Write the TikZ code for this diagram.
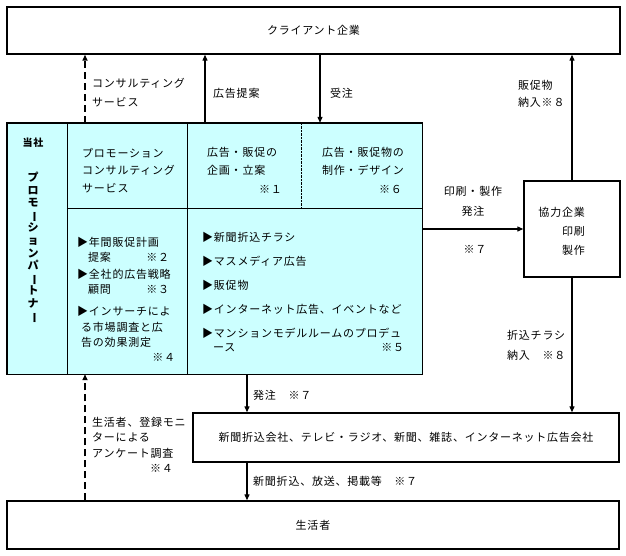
\documentclass[tikz,border=0pt]{standalone}
\usepackage{fontspec}
\setmainfont{Noto Sans CJK JP}[LetterSpace=7]
\usetikzlibrary{arrows.meta}
\definecolor{cellcyan}{HTML}{CCFFFF}
\tikzset{
  box/.style={draw, line width=1.4pt, inner sep=0pt},
  cell/.style={fill=cellcyan, inner sep=0pt},
  txt/.style={inner sep=0pt, align=left},
  flow/.style={line width=1.2pt, -{Triangle[length=6pt,width=5pt]}},
  survey/.style={flow, line width=1.6pt, dash pattern=on 7pt off 4pt},
}
\newcommand{\lsp}[1]{\fontsize{11}{#1}\selectfont}
\newcommand{\vbar}{\rotatebox[origin=c]{-90}{ー}}

\begin{document}
\begin{tikzpicture}[x=1pt, y=-1pt, font=\lsp{15}]
\useasboundingbox (0,0) rectangle (626,555);

% outer parties
\node[box, minimum width=613pt, minimum height=47pt] (client) at (313.5,30.5) {クライアント企業};
\node[box, minimum width=612pt, minimum height=48pt] (consumer) at (313,525) {生活者};
\node[box, minimum width=426pt, minimum height=49pt] (media) at (406,437.5)
  {新聞折込会社、テレビ・ラジオ、新聞、雑誌、インターネット広告会社};
\node[box, minimum width=96pt, minimum height=96pt] (partner) at (572,229) {};
\node[txt, align=right, anchor=east, font=\lsp{19}] at (585,231) {協力企業\\印刷\\製作};

% our company
\node[cell, minimum width=60pt, minimum height=251pt] (tosha) at (37,248.5) {};
\node[cell, minimum width=120pt, minimum height=86pt] (cellA) at (127,166) {};
\node[cell, minimum width=114pt, minimum height=86pt] (cellB) at (244,166) {};
\node[cell, minimum width=121pt, minimum height=86pt] (cellC) at (361.5,166) {};
\node[cell, minimum width=120pt, minimum height=165pt] (cellD) at (127,291.5) {};
\node[cell, minimum width=235pt, minimum height=165pt] (cellE) at (304.5,291.5) {};
\draw[line width=1.4pt] (tosha.north west) rectangle (cellE.south east);
\draw[line width=1.4pt] (tosha.north east) -- (tosha.south east);
\draw[line width=1.2pt] (cellA.north east) -- (cellD.south east);
\draw[line width=1.2pt] (cellD.north west) -- (cellE.north east);
\draw[densely dotted] (cellB.north east) -- (cellB.south east);

\node[txt, font=\bfseries] at (33,143) {当社};
\node[txt, align=center, font=\bfseries\lsp{12.6}] at (33,247.5)
  {プ\\ロ\\モ\\\vbar\\シ\\ョ\\ン\\パ\\\vbar\\ト\\ナ\\\vbar};
\node[txt, anchor=west, font=\lsp{17.5}] at (82,170.5) {プロモーション\\コンサルティング\\サービス};
\node[txt, anchor=west, font=\lsp{18}] at (207,161) {広告・販促の\\企画・立案};
\node[txt, anchor=east] at (282,189) {※１};
\node[txt, anchor=west, font=\lsp{18}] at (322,161) {広告・販促物の\\制作・デザイン};
\node[txt, anchor=east] at (402,189) {※６};
\node[txt, anchor=west, text width=92pt] at (77,250) {▶年間販促計画\\\phantom{▶}提案\hfill※２};
\node[txt, anchor=west, text width=92pt] at (77,281.5) {▶全社的広告戦略\\\phantom{▶}顧問\hfill※３};
\node[txt, anchor=west, text width=98pt, font=\lsp{15.3}] at (77,334)
  {▶インサーチによ\\\hspace{4pt}る市場調査と広\\\hspace{4pt}告の効果測定\\\mbox{}\hfill※４};
\node[txt, anchor=west, text width=202pt, font=\lsp{14}] at (202,292)
  {▶新聞折込チラシ\\[10pt]▶マスメディア広告\\[10pt]▶販促物\\[10pt]%
   ▶インターネット広告、イベントなど\\[10pt]▶マンションモデルルームのプロデュ\\%
   \phantom{▶}ース\hfill※５};

% flows
\coordinate (dashx) at (85,0);
\coordinate (planx) at (205,0);
\coordinate (orderx) at (320,0);
\coordinate (mediax) at (247,0);
\draw[survey] (cellA.north -| dashx) -- (client.south -| dashx);
\draw[flow] (cellB.north -| planx) -- (client.south -| planx);
\draw[flow] (client.south -| orderx) -- (cellC.north -| orderx);
\draw[flow] (partner.north) -- (client.south -| partner.north);
\draw[flow] (cellE.east |- partner.west) -- (partner.west);
\draw[flow] (partner.south) -- (media.north -| partner.south);
\draw[flow] (cellE.south -| mediax) -- (media.north -| mediax);
\draw[flow] (media.south -| mediax) -- (consumer.north -| mediax);
\draw[survey] (consumer.north -| dashx) -- (cellD.south -| dashx);

% flow labels
\node[txt, anchor=west, font=\lsp{19}] at (92,92.5) {コンサルティング\\サービス};
\node[txt, anchor=west] at (213,93) {広告提案};
\node[txt, anchor=west] at (330,93) {受注};
\node[txt, anchor=west, font=\lsp{17}] at (518,93.5) {販促物\\納入※８};
\node[txt, align=center, font=\lsp{20}] at (473,201) {印刷・製作\\発注};
\node[txt] at (475,249) {※７};
\node[txt, anchor=west, font=\lsp{20}] at (507,345) {折込チラシ\\納入　※８};
\node[txt, anchor=west] at (253,395) {発注　※７};
\node[txt, anchor=west] at (253,481) {新聞折込、放送、掲載等　※７};
\node[txt, anchor=west, font=\lsp{15.3}] at (92,445)
  {生活者、登録モニ\\ターによる\\アンケート調査\\\hspace{58pt}※４};
\end{tikzpicture}
\end{document}
